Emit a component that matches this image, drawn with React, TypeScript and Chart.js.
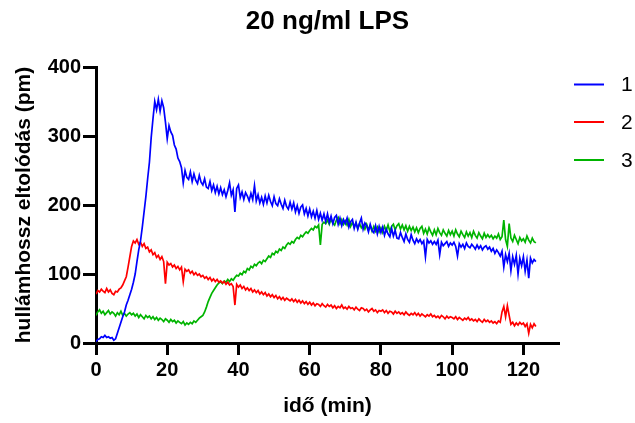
import React, { useEffect, useRef } from 'react';
import { Chart, registerables } from 'chart.js';

Chart.register(...registerables);

// Sampling interval of the recordings (minutes)
const TIME_STEP_MIN = 0.5;

const chartTitle = '20 ng/ml LPS';
const xTitle = 'idő (min)';
const yTitle = 'hullámhossz eltolódás (pm)';

const seriesLabels = ['1', '2', '3'];
const seriesColors = ['#0000FF', '#FF0000', '#00B400'];

const xTicks = [0, 20, 40, 60, 80, 100, 120];
const yTicks = [0, 100, 200, 300, 400];

// Series 1 (blue), one value every 0.5 min from 0 min
const series1 = [
  2, 5, 6, 9, 8, 11, 8, 9, 7, 8,
  4, 6, 14, 22, 30, 38, 45, 55, 62, 70,
  78, 88, 100, 118, 135, 148, 168, 190, 212, 238,
  262, 298, 325, 350, 338, 353, 336, 351, 341, 320,
  296, 315, 306, 301, 287, 281, 268, 263, 254, 232,
  250, 240, 237, 248, 234, 245, 236, 231, 243, 233,
  229, 238, 226, 224, 234, 221, 229, 218, 227, 216,
  225, 215, 222, 212, 221, 232, 214, 222, 190, 224,
  229, 211, 219, 208, 218, 213, 206, 217, 208, 228,
  206, 215, 203, 211, 201, 213, 203, 214, 205, 199,
  212, 202, 199, 209, 201, 195, 207, 198, 194, 204,
  194, 203, 190, 199, 188, 197, 200, 187, 195, 184,
  194, 183, 191, 181, 192, 179, 188, 178, 187, 176,
  187, 175, 184, 173, 182, 185, 172, 181, 170, 179,
  173, 181, 168, 176, 179, 166, 175, 165, 174, 181,
  165, 174, 170, 161, 172, 163, 160, 170, 158, 169,
  160, 168, 156, 165, 158, 154, 166, 155, 163, 152,
  151, 160, 153, 147, 158, 150, 146, 157, 149, 144,
  151, 146, 150, 144, 148, 125, 150, 145, 148, 143,
  147, 143, 149, 128, 146, 141, 144, 147, 140, 145,
  142, 146, 140, 126, 144, 139, 143, 137, 145, 140,
  138, 143, 140, 136, 142, 137, 141, 135, 139, 141,
  136, 139, 133, 137, 130, 135, 131, 126, 133, 110,
  128, 118, 130, 105, 125, 114, 127, 100, 123, 112,
  125, 104, 120, 94, 123, 116, 121, 118,
];

// Series 2 (red)
const series2 = [
  71, 76, 74, 78, 75, 73, 79, 74, 77, 72,
  70, 75, 74, 78, 80, 84, 90, 96, 110, 125,
  140, 148, 145, 150, 143, 146, 140, 144, 137, 139,
  132, 135, 128, 131, 124, 127, 121, 125, 118, 86,
  117, 113, 115, 110, 113, 108, 111, 106, 110, 89,
  107, 104, 106, 101, 104, 99, 102, 98, 100, 96,
  98, 94, 96, 92, 95, 90, 93, 89, 92, 88,
  90, 87, 89, 85, 88, 84, 86, 82, 55, 85,
  81, 84, 79, 82, 77, 80, 76, 79, 74, 77,
  73, 76, 71, 74, 70, 73, 68, 71, 67, 70,
  66, 69, 64, 67, 63, 66, 62, 65, 63, 61,
  64, 60, 63, 59, 62, 58, 61, 57, 60, 56,
  59, 55, 58, 54, 57, 56, 53, 57, 54, 52,
  56, 53, 55, 51, 54, 50, 53, 51, 55, 50,
  52, 49, 53, 50, 51, 48, 52, 49, 47, 51,
  50, 47, 49, 45, 48, 50, 46, 48, 44, 47,
  46, 48, 44, 47, 43, 46, 45, 42, 46, 43,
  45, 42, 44, 41, 45, 42, 40, 43, 41, 44,
  40, 43, 39, 42, 40, 38, 41, 39, 42, 38,
  40, 37, 39, 36, 40, 38, 35, 39, 36, 38,
  37, 35, 38, 34, 37, 35, 33, 36, 34, 37,
  33, 35, 32, 34, 31, 35, 32, 30, 34, 31,
  33, 30, 32, 29, 31, 28, 32, 30, 45, 53,
  38, 54, 40, 27, 30, 25, 29, 26, 30, 27,
  29, 24, 28, 14, 27, 22, 28, 24,
];

// Series 3 (green)
const series3 = [
  40, 45, 48, 43, 46, 41, 44, 47, 42, 45,
  43, 39, 44, 41, 46, 40, 43, 39, 42, 44,
  41, 43, 39, 42, 37, 41, 38, 35, 40, 37,
  39, 35, 38, 34, 37, 33, 36, 34, 31, 35,
  33, 30, 34, 31, 33, 29, 32, 30, 28, 31,
  26, 29, 27, 30, 28, 32, 30, 33, 36, 38,
  40, 45, 52, 60, 66, 72, 76, 80, 84, 87,
  89, 86, 90, 88, 92, 89, 93, 91, 95, 98,
  97, 101, 99, 104, 102, 108, 106, 111, 109, 114,
  112, 116, 118, 115, 120, 118, 122, 126, 124, 130,
  128, 133, 131, 136, 134, 139, 137, 142, 145, 143,
  147, 145, 150, 153, 151, 156, 154, 158, 161, 159,
  163, 166, 164, 169, 167, 171, 142, 172, 175, 173,
  178, 172, 180, 174, 171, 178, 182, 173, 179, 172,
  177, 171, 179, 169, 175, 168, 174, 166, 173, 167,
  171, 165, 172, 164, 170, 162, 169, 162, 168, 161,
  167, 160, 169, 163, 171, 162, 169, 172, 164, 170,
  173, 165, 171, 164, 170, 162, 169, 163, 168, 161,
  167, 160, 166, 169, 159, 165, 158, 167, 161, 156,
  164, 157, 166, 160, 156, 164, 159, 155, 163, 157,
  162, 155, 164, 158, 154, 162, 157, 153, 161, 155,
  160, 153, 162, 156, 152, 160, 155, 151, 159, 153,
  157, 153, 156, 151, 155, 152, 158, 150, 154, 178,
  150, 140, 173, 152, 147, 156, 150, 144, 153, 148,
  151, 146, 155, 149, 145, 152, 147, 145,
];

const allSeries = [series1, series2, series3];

const FONT = '"Liberation Sans", Arial, Helvetica, sans-serif';

const titlePlugin = {
  id: 'customTitle',
  afterDraw(chart: any) {
    const { ctx, chartArea } = chart;
    ctx.save();
    ctx.fillStyle = '#000';
    ctx.font = `bold 26px ${FONT}`;
    ctx.textAlign = 'center';
    ctx.textBaseline = 'alphabetic';
    ctx.fillText(chartTitle, (chartArea.left + chartArea.right) / 2, 29);
    ctx.restore();
  },
};

const legendPlugin = {
  id: 'customLegend',
  afterDraw(chart: any) {
    const { ctx } = chart;
    ctx.save();
    const ys = [84.5, 122, 160];
    seriesLabels.forEach((lab, i) => {
      ctx.strokeStyle = seriesColors[i];
      ctx.lineWidth = 2;
      ctx.beginPath();
      ctx.moveTo(574, ys[i]);
      ctx.lineTo(604, ys[i]);
      ctx.stroke();
      ctx.fillStyle = '#000';
      ctx.font = `21px ${FONT}`;
      ctx.textAlign = 'left';
      ctx.textBaseline = 'middle';
      ctx.fillText(lab, 621, ys[i] + 1);
    });
    ctx.restore();
  },
};

export default function App() {
  const ref = useRef<HTMLCanvasElement | null>(null);

  useEffect(() => {
    document.body.style.margin = '0';
    if (!ref.current) return;
    const datasets = allSeries.map((s, k) => ({
      label: seriesLabels[k],
      data: s.map((v, i) => ({ x: i * TIME_STEP_MIN, y: v })),
      borderColor: seriesColors[k],
      backgroundColor: seriesColors[k],
      borderWidth: 1.7,
      pointRadius: 0,
      tension: 0,
      fill: false,
    }));
    const chart = new Chart(ref.current, {
      type: 'line',
      data: { datasets },
      plugins: [titlePlugin, legendPlugin],
      options: {
        responsive: false,
        animation: false,
        devicePixelRatio: 1,
        layout: { padding: { left: 8, right: 76, top: 67, bottom: 0 } },
        plugins: {
          legend: { display: false },
          title: { display: false },
          tooltip: { enabled: false },
        },
        scales: {
          x: {
            type: 'linear',
            min: 0,
            max: 130,
            afterFit: (s: any) => { s.height = 80; },
            afterBuildTicks: (s: any) => { s.ticks = xTicks.map((v) => ({ value: v })); },
            grid: {
              display: true,
              drawOnChartArea: false,
              drawTicks: true,
              tickLength: 12,
              tickWidth: 3,
              tickColor: '#000',
            },
            border: { display: true, width: 3, color: '#000' },
            ticks: {
              color: '#000',
              padding: 3,
              maxRotation: 0,
              font: { family: FONT, size: 20, weight: 'bold' },
            },
            title: {
              display: true,
              text: xTitle,
              color: '#000',
              padding: 4,
              font: { family: FONT, size: 21, weight: 'bold' },
            },
          },
          y: {
            type: 'linear',
            min: 0,
            max: 400,
            afterFit: (s: any) => { s.width = 88; },
            afterBuildTicks: (s: any) => { s.ticks = yTicks.map((v) => ({ value: v })); },
            grid: {
              display: true,
              drawOnChartArea: false,
              drawTicks: true,
              tickLength: 13,
              tickWidth: 3,
              tickColor: '#000',
            },
            border: { display: true, width: 3, color: '#000' },
            ticks: {
              color: '#000',
              padding: 2,
              font: { family: FONT, size: 20, weight: 'bold' },
            },
            title: {
              display: true,
              text: yTitle,
              color: '#000',
              padding: 4,
              font: { family: FONT, size: 21, weight: 'bold' },
            },
          },
        },
      },
    });
    return () => chart.destroy();
  }, []);

  return (
    <div style={{ width: 635, height: 423 }}>
      <canvas ref={ref} width={635} height={423} />
    </div>
  );
}
